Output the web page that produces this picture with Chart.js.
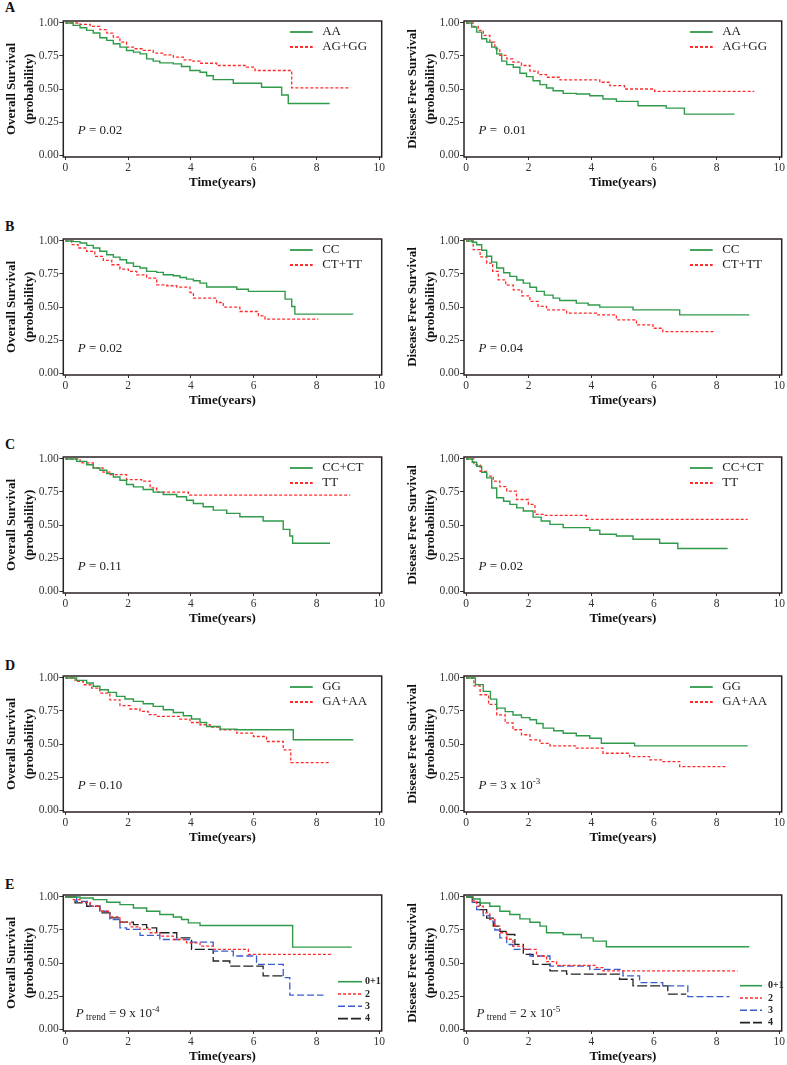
<!DOCTYPE html>
<html>
<head>
<meta charset="utf-8">
<script src="https://cdn.jsdelivr.net/npm/chart.js@4.4.0/dist/chart.umd.min.js"></script>
<style>
  body { margin: 0; background: #fff; width: 787px; height: 1065px; position: relative; overflow: hidden; }
  canvas { position: absolute; }
  .tag { position: absolute; left: 5px; font: bold 14px 'Liberation Serif', serif; line-height: 16px; color: #111; }
</style>
</head>
<body>
<div class="tag" style="top:0px">A</div>
<div class="tag" style="top:219px">B</div>
<div class="tag" style="top:437px">C</div>
<div class="tag" style="top:658px">D</div>
<div class="tag" style="top:877px">E</div>
<script>
// axis ticks
const xTicks = [0, 2, 4, 6, 8, 10];
const yTicks = [0, 0.25, 0.5, 0.75, 1];

// A: AA vs AG+GG
const osA_AA_t = [0, 0.25, 0.47, 0.68, 0.89, 1.1, 1.32, 1.53, 1.74, 1.95, 2.17, 2.38, 2.59, 2.8, 3.01, 3.44, 3.7, 3.97, 4.29, 4.5, 4.71, 5.35, 6.25, 6.89, 7.1, 8.42];
const osA_AA_s = [1, 0.982, 0.964, 0.944, 0.924, 0.888, 0.868, 0.843, 0.817, 0.792, 0.779, 0.766, 0.728, 0.711, 0.698, 0.69, 0.67, 0.64, 0.627, 0.6, 0.571, 0.543, 0.513, 0.454, 0.39, 0.39];
const osA_AG_t = [0, 0.47, 0.79, 1.1, 1.32, 1.53, 1.74, 1.95, 2.17, 2.48, 2.8, 3.12, 3.44, 3.76, 4.02, 4.29, 4.82, 5.77, 6.04, 7.21, 9.07];
const osA_AG_s = [1, 0.99, 0.975, 0.95, 0.924, 0.893, 0.855, 0.817, 0.805, 0.792, 0.772, 0.759, 0.741, 0.721, 0.711, 0.695, 0.678, 0.665, 0.64, 0.508, 0.508];
const dfsA_AA_t = [0, 0.18, 0.34, 0.5, 0.66, 0.82, 0.98, 1.14, 1.3, 1.51, 1.72, 1.93, 2.14, 2.36, 2.57, 2.78, 3.1, 3.52, 3.95, 4.37, 4.8, 5.49, 6.39, 6.97, 8.57];
const dfsA_AA_s = [1, 0.97, 0.931, 0.881, 0.855, 0.817, 0.766, 0.711, 0.685, 0.665, 0.619, 0.594, 0.563, 0.533, 0.508, 0.487, 0.467, 0.462, 0.449, 0.424, 0.406, 0.373, 0.355, 0.31, 0.31];
const dfsA_AG_t = [0, 0.23, 0.39, 0.55, 0.76, 0.92, 1.08, 1.3, 1.5, 1.77, 2.04, 2.3, 2.57, 3.0, 4.27, 4.59, 5.06, 6.02, 9.2];
const dfsA_AG_s = [1, 0.975, 0.944, 0.906, 0.855, 0.805, 0.754, 0.728, 0.703, 0.678, 0.635, 0.609, 0.589, 0.569, 0.551, 0.525, 0.5, 0.482, 0.482];

// B: CC vs CT+TT
const osB_CC_t = [0, 0.25, 0.47, 0.68, 0.89, 1.1, 1.32, 1.53, 1.74, 1.95, 2.17, 2.38, 2.59, 2.91, 3.12, 3.44, 3.65, 3.86, 4.08, 4.29, 4.5, 5.46, 5.83, 7.0, 7.21, 7.31, 9.17];
const osB_CC_s = [1, 0.995, 0.985, 0.967, 0.947, 0.922, 0.896, 0.878, 0.858, 0.833, 0.808, 0.795, 0.77, 0.762, 0.744, 0.737, 0.724, 0.711, 0.699, 0.681, 0.651, 0.635, 0.618, 0.56, 0.504, 0.446, 0.446];
const osB_CT_t = [0, 0.2, 0.41, 0.68, 0.94, 1.21, 1.48, 1.74, 2.01, 2.27, 2.59, 2.91, 3.23, 3.55, 3.97, 4.08, 4.82, 5.03, 5.56, 6.15, 6.36, 8.06];
const osB_CT_s = [1, 0.972, 0.947, 0.922, 0.884, 0.853, 0.82, 0.787, 0.77, 0.744, 0.719, 0.668, 0.661, 0.651, 0.61, 0.567, 0.534, 0.499, 0.466, 0.433, 0.408, 0.408];
const dfsB_CC_t = [0, 0.2, 0.34, 0.5, 0.66, 0.82, 0.98, 1.2, 1.4, 1.62, 1.83, 2.04, 2.25, 2.5, 2.78, 2.99, 3.52, 3.9, 4.27, 5.33, 6.82, 9.04];
const dfsB_CC_s = [1, 0.99, 0.972, 0.93, 0.884, 0.84, 0.795, 0.76, 0.732, 0.705, 0.681, 0.65, 0.618, 0.59, 0.567, 0.549, 0.529, 0.515, 0.499, 0.478, 0.44, 0.44];
const dfsB_CT_t = [0, 0.23, 0.45, 0.66, 0.85, 1.03, 1.27, 1.51, 1.78, 2.04, 2.3, 2.57, 3.21, 4.16, 4.8, 5.44, 5.97, 6.28, 7.93];
const dfsB_CT_s = [1, 0.934, 0.88, 0.833, 0.77, 0.706, 0.665, 0.63, 0.585, 0.542, 0.505, 0.478, 0.453, 0.44, 0.403, 0.365, 0.339, 0.314, 0.314];

// C: CC+CT vs TT
const osC_CC_t = [0, 0.36, 0.68, 0.89, 1.1, 1.32, 1.53, 1.74, 1.95, 2.17, 2.48, 2.8, 3.12, 3.55, 3.86, 4.08, 4.39, 4.71, 5.14, 5.56, 6.3, 6.94, 7.15, 7.24, 8.43];
const osC_CC_s = [1, 0.982, 0.957, 0.932, 0.915, 0.889, 0.864, 0.839, 0.807, 0.789, 0.769, 0.749, 0.731, 0.714, 0.688, 0.663, 0.638, 0.613, 0.588, 0.563, 0.53, 0.467, 0.417, 0.362, 0.362];
const osC_TT_t = [0, 0.47, 0.89, 1.2, 1.42, 1.95, 2.43, 2.7, 2.91, 3.92, 9.07];
const osC_TT_s = [1, 0.97, 0.932, 0.9, 0.882, 0.844, 0.832, 0.781, 0.749, 0.726, 0.726];
const dfsC_CC_t = [0, 0.2, 0.34, 0.5, 0.66, 0.82, 0.98, 1.2, 1.4, 1.62, 1.83, 2.14, 2.4, 2.68, 3.1, 3.95, 4.27, 4.8, 5.33, 6.18, 6.76, 8.35];
const dfsC_CC_s = [1, 0.975, 0.945, 0.9, 0.857, 0.78, 0.706, 0.68, 0.656, 0.63, 0.606, 0.56, 0.53, 0.505, 0.48, 0.46, 0.43, 0.417, 0.392, 0.362, 0.322, 0.322];
const dfsC_TT_t = [0, 0.25, 0.45, 0.66, 0.87, 1.08, 1.3, 1.61, 1.99, 2.2, 2.46, 3.84, 8.99];
const dfsC_TT_s = [1, 0.955, 0.907, 0.87, 0.832, 0.79, 0.756, 0.693, 0.656, 0.58, 0.573, 0.543, 0.543];

// D: GG vs GA+AA
const osD_GG_t = [0, 0.36, 0.68, 0.89, 1.1, 1.37, 1.63, 1.9, 2.17, 2.48, 2.8, 3.12, 3.44, 3.76, 4.02, 4.29, 4.5, 4.93, 5.46, 7.26, 9.17];
const osD_GG_s = [1, 0.982, 0.962, 0.937, 0.911, 0.891, 0.861, 0.841, 0.823, 0.805, 0.785, 0.759, 0.739, 0.714, 0.689, 0.663, 0.633, 0.613, 0.608, 0.532, 0.532];
const osD_GA_t = [0, 0.31, 0.57, 0.84, 1.1, 1.42, 1.74, 2.06, 2.38, 2.64, 2.91, 3.65, 3.97, 4.29, 4.61, 4.93, 5.46, 5.99, 6.41, 6.94, 7.18, 8.43];
const osD_GA_s = [1, 0.975, 0.949, 0.924, 0.886, 0.835, 0.79, 0.765, 0.747, 0.722, 0.709, 0.689, 0.663, 0.646, 0.628, 0.608, 0.582, 0.557, 0.519, 0.456, 0.359, 0.359];
const dfsD_GG_t = [0, 0.3, 0.55, 0.78, 0.98, 1.25, 1.5, 1.77, 2.04, 2.25, 2.46, 2.8, 3.1, 3.52, 3.95, 4.32, 5.38, 8.99];
const dfsD_GG_s = [1, 0.95, 0.899, 0.84, 0.772, 0.745, 0.72, 0.7, 0.684, 0.655, 0.62, 0.6, 0.582, 0.562, 0.544, 0.506, 0.486, 0.486];
const dfsD_GA_t = [0, 0.25, 0.45, 0.72, 0.98, 1.25, 1.5, 1.77, 2.04, 2.36, 2.68, 3.52, 4.37, 5.22, 5.86, 6.28, 6.82, 8.3];
const dfsD_GA_s = [1, 0.94, 0.873, 0.8, 0.72, 0.66, 0.608, 0.57, 0.532, 0.505, 0.486, 0.468, 0.43, 0.405, 0.38, 0.367, 0.329, 0.329];

// E: number of risk genotypes
const osE_01_t = [0, 0.47, 0.89, 1.32, 1.74, 2.17, 2.59, 3.01, 3.44, 3.7, 3.92, 4.29, 7.24, 9.12];
const osE_01_s = [1, 0.992, 0.98, 0.96, 0.942, 0.917, 0.892, 0.867, 0.849, 0.829, 0.804, 0.784, 0.62, 0.62];
const osE_2_t = [0, 0.25, 0.52, 0.79, 1.1, 1.42, 1.74, 2.06, 2.38, 2.7, 3.01, 3.44, 3.86, 4.29, 4.71, 5.83, 8.48];
const osE_2_s = [1, 0.98, 0.96, 0.93, 0.892, 0.849, 0.809, 0.774, 0.754, 0.729, 0.704, 0.678, 0.653, 0.628, 0.603, 0.565, 0.565];
const osE_3_t = [0, 0.36, 0.79, 1.1, 1.42, 1.74, 1.95, 2.38, 3.01, 3.97, 4.71, 5.35, 6.09, 6.94, 7.15, 8.22];
const osE_3_s = [1, 0.967, 0.93, 0.892, 0.829, 0.766, 0.754, 0.709, 0.678, 0.658, 0.59, 0.553, 0.49, 0.389, 0.256, 0.256];
const osE_4_t = [0, 0.31, 0.68, 1.1, 1.42, 1.74, 2.17, 2.59, 2.91, 3.55, 4.02, 4.71, 5.24, 6.3, 6.94];
const osE_4_s = [1, 0.955, 0.93, 0.879, 0.842, 0.809, 0.791, 0.766, 0.729, 0.691, 0.603, 0.515, 0.477, 0.402, 0.402];
const dfsE_01_t = [0, 0.23, 0.45, 0.76, 1.08, 1.4, 1.72, 2.04, 2.36, 2.57, 3.1, 3.68, 4.06, 4.48, 9.04];
const dfsE_01_s = [1, 0.985, 0.955, 0.93, 0.892, 0.867, 0.834, 0.809, 0.779, 0.729, 0.716, 0.69, 0.666, 0.623, 0.623];
const dfsE_2_t = [0, 0.2, 0.34, 0.55, 0.76, 0.92, 1.08, 1.3, 1.5, 1.83, 2.25, 2.57, 2.89, 4.16, 4.37, 8.67];
const dfsE_2_s = [1, 0.97, 0.93, 0.88, 0.83, 0.78, 0.729, 0.68, 0.628, 0.603, 0.553, 0.51, 0.482, 0.465, 0.44, 0.44];
const dfsE_3_t = [0, 0.2, 0.34, 0.55, 0.76, 0.92, 1.08, 1.3, 1.5, 2.04, 2.68, 3.95, 5.01, 5.54, 6.28, 7.08, 8.41];
const dfsE_3_s = [1, 0.96, 0.905, 0.86, 0.817, 0.75, 0.691, 0.64, 0.603, 0.553, 0.477, 0.452, 0.402, 0.352, 0.327, 0.246, 0.246];
const dfsE_4_t = [0, 0.2, 0.45, 0.66, 0.87, 1.08, 1.3, 1.56, 1.83, 2.14, 2.68, 3.21, 4.9, 5.33, 6.44, 7.03];
const dfsE_4_s = [1, 0.96, 0.905, 0.84, 0.78, 0.74, 0.716, 0.641, 0.565, 0.49, 0.44, 0.415, 0.377, 0.327, 0.264, 0.264];

const SERIF = "'Liberation Serif', 'Times New Roman', serif";
const LINE = {
  g: { color: '#2f9a4a', dash: [], width: 1.4 },
  r: { color: '#ff2b2b', dash: [3, 2], width: 1.3 },
  b: { color: '#3a5bd0', dash: [7, 3], width: 1.3 },
  k: { color: '#222222', dash: [10, 3], width: 1.3 }
};
const OS_TITLE = ['Overall Survival', '(probability)'];
const DFS_TITLE = ['Disease Free Survival', '(probability)'];

const rowOne = [22.7, 241.3, 459.3, 678.3, 897.3]; // pixel y of survival 1.00 per row

function P(val) {
  return [{ t: 'P', it: true }, { t: ' = ' + val }];
}
function Pexp(base, exp, sub) {
  const segs = [{ t: 'P', it: true }];
  if (sub) segs.push({ t: ' ' + sub, size: 9.5, dy: 3 });
  segs.push({ t: ' = ' + base + ' x 10' });
  segs.push({ t: exp, size: 9, dy: -5 });
  return segs;
}

const panels = [
  { row: 0, side: 0, title: OS_TITLE, note: P('0.02'), series: [['AA', osA_AA_t, osA_AA_s, 'g'], ['AG+GG', osA_AG_t, osA_AG_s, 'r']] },
  { row: 0, side: 1, title: DFS_TITLE, note: P(' 0.01'), series: [['AA', dfsA_AA_t, dfsA_AA_s, 'g'], ['AG+GG', dfsA_AG_t, dfsA_AG_s, 'r']] },
  { row: 1, side: 0, title: OS_TITLE, note: P('0.02'), series: [['CC', osB_CC_t, osB_CC_s, 'g'], ['CT+TT', osB_CT_t, osB_CT_s, 'r']] },
  { row: 1, side: 1, title: DFS_TITLE, note: P('0.04'), series: [['CC', dfsB_CC_t, dfsB_CC_s, 'g'], ['CT+TT', dfsB_CT_t, dfsB_CT_s, 'r']] },
  { row: 2, side: 0, title: OS_TITLE, note: P('0.11'), series: [['CC+CT', osC_CC_t, osC_CC_s, 'g'], ['TT', osC_TT_t, osC_TT_s, 'r']] },
  { row: 2, side: 1, title: DFS_TITLE, note: P('0.02'), series: [['CC+CT', dfsC_CC_t, dfsC_CC_s, 'g'], ['TT', dfsC_TT_t, dfsC_TT_s, 'r']] },
  { row: 3, side: 0, title: OS_TITLE, note: P('0.10'), series: [['GG', osD_GG_t, osD_GG_s, 'g'], ['GA+AA', osD_GA_t, osD_GA_s, 'r']] },
  { row: 3, side: 1, title: DFS_TITLE, note: Pexp('3', '-3'), series: [['GG', dfsD_GG_t, dfsD_GG_s, 'g'], ['GA+AA', dfsD_GA_t, dfsD_GA_s, 'r']] },
  { row: 4, side: 0, title: OS_TITLE, note: Pexp('9', '-4', 'trend'), small: true,
    series: [['0+1', osE_01_t, osE_01_s, 'g'], ['2', osE_2_t, osE_2_s, 'r'], ['3', osE_3_t, osE_3_s, 'b'], ['4', osE_4_t, osE_4_s, 'k']] },
  { row: 4, side: 1, title: DFS_TITLE, note: Pexp('2', '-5', 'trend'), small: true,
    series: [['0+1', dfsE_01_t, dfsE_01_s, 'g'], ['2', dfsE_2_t, dfsE_2_s, 'r'], ['3', dfsE_3_t, dfsE_3_s, 'b'], ['4', dfsE_4_t, dfsE_4_s, 'k']] }
];

// draws the frame, the in-plot legend and the p-value note
const decor = {
  id: 'decor',
  afterDatasetsDraw(chart, args, opts) {
    const { ctx, chartArea: a } = chart;
    ctx.save();
    ctx.setLineDash([]);
    ctx.strokeStyle = '#2a2222';
    ctx.lineWidth = 1.5;
    ctx.strokeRect(a.left, a.top, a.right - a.left, a.bottom - a.top);

    // legend
    const small = opts.small;
    chart.data.datasets.forEach((ds, i) => {
      let y, x0, x1, xt;
      if (small) {
        y = a.bottom + (opts.side ? -45.3 : -49.3) + i * 12.3;
        x0 = a.right - (opts.side ? 41.7 : 43.7);
        x1 = a.right - 19.7;
        xt = a.right - (opts.side ? 13.7 : 16.7);
      } else {
        y = a.top + 11 + i * 15;
        x0 = a.right - 91.7;
        x1 = a.right - 69;
        xt = a.right - 59.5;
      }
      ctx.beginPath();
      ctx.strokeStyle = ds.borderColor;
      ctx.lineWidth = small ? 1.6 : 1.8;
      ctx.setLineDash(ds.borderDash || []);
      ctx.moveTo(x0, y);
      ctx.lineTo(x1, y);
      ctx.stroke();
      ctx.setLineDash([]);
      ctx.fillStyle = '#222';
      ctx.textBaseline = 'middle';
      ctx.textAlign = 'left';
      ctx.font = small ? 'bold 10px ' + SERIF : '13px ' + SERIF;
      ctx.fillText(ds.label, xt, y);
    });

    // p-value note
    let x = a.left + (small ? 12.5 : 14.5);
    const yBase = a.bottom + (small ? -18.8 : -28) + 4.5;
    ctx.textBaseline = 'alphabetic';
    opts.note.forEach(seg => {
      ctx.font = (seg.it ? 'italic ' : '') + (seg.size || 13) + 'px ' + SERIF;
      ctx.fillStyle = '#222';
      ctx.fillText(seg.t, x, yBase + (seg.dy || 0));
      x += ctx.measureText(seg.t).width;
    });
    ctx.restore();
  }
};

panels.forEach(p => {
  const canvas = document.createElement('canvas');
  const left = p.side ? 393 : 0;
  const width = p.side ? 394 : 393;
  const yAxisW = p.side ? 71 : 63.3;
  const padRight = p.side ? 5.3 : 11.3;
  const boxTop = rowOne[p.row] - 2;
  canvas.width = width;
  canvas.height = 180;
  canvas.style.left = left + 'px';
  canvas.style.top = (boxTop - 10) + 'px';
  document.body.appendChild(canvas);

  const datasets = p.series.map(([label, t, s, key]) => ({
    label: label,
    data: t.map((v, i) => ({ x: v, y: s[i] })),
    borderColor: LINE[key].color,
    borderDash: LINE[key].dash,
    borderWidth: LINE[key].width,
    stepped: true,
    pointRadius: 0,
    fill: false
  }));

  new Chart(canvas, {
    type: 'line',
    data: { datasets: datasets },
    plugins: [decor],
    options: {
      responsive: false,
      animation: false,
      devicePixelRatio: 1,
      layout: { padding: { left: 0, right: padRight, top: 10, bottom: 0 } },
      plugins: {
        legend: { display: false },
        tooltip: { enabled: false },
        decor: { note: p.note, small: !!p.small, side: p.side }
      },
      scales: {
        x: {
          type: 'linear',
          min: -0.064,
          max: 10.076,
          afterBuildTicks: s => { s.ticks = xTicks.map(v => ({ value: v })); },
          afterFit: s => { s.height = 34; },
          ticks: { autoSkip: false, maxRotation: 0, padding: 1, color: '#333', font: { family: SERIF, size: 11.5 }, callback: v => String(v) },
          grid: { drawOnChartArea: false, drawTicks: true, tickLength: 3, color: '#333' },
          border: { display: false },
          title: { display: true, text: 'Time(years)', color: '#111', padding: { top: 0, bottom: 0.5 },
                   font: { family: SERIF, size: 13, weight: 'bold', lineHeight: 1.2 } }
        },
        y: {
          type: 'linear',
          min: -0.01515,
          max: 1.01515,
          afterBuildTicks: s => { s.ticks = yTicks.map(v => ({ value: v })); },
          afterFit: s => { s.width = yAxisW; },
          ticks: { autoSkip: false, padding: 0.5, color: '#333', font: { family: SERIF, size: 11.5 }, callback: v => v.toFixed(2) },
          grid: { drawOnChartArea: false, drawTicks: true, tickLength: 4, color: '#333' },
          border: { display: false },
          title: { display: true, text: p.title, color: '#111', padding: { top: p.side ? 10.8 : 2.8, bottom: 0 },
                   font: { family: SERIF, size: 13, weight: 'bold', lineHeight: 1.37 } }
        }
      }
    }
  });
});
</script>
</body>
</html>
